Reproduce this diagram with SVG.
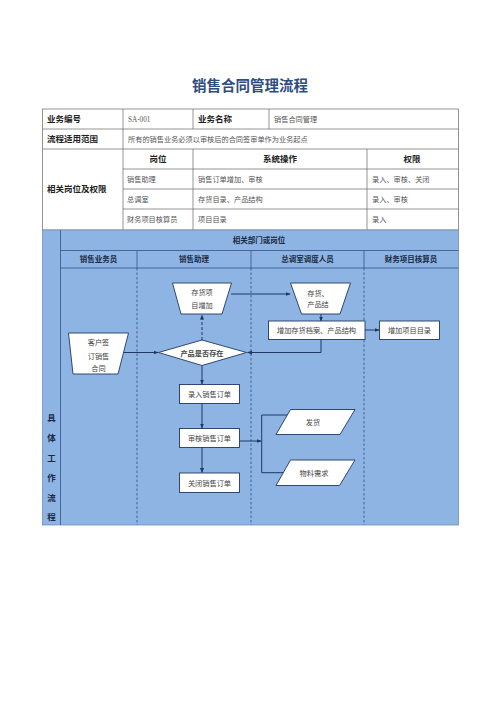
<svg xmlns="http://www.w3.org/2000/svg" width="500" height="708" viewBox="0 0 500 708">
<style>
.tb{fill:none;stroke:#7a7a7a;stroke-width:0.8}
.hd{font-family:"Noto Sans CJK SC",sans-serif;font-weight:bold;font-size:8.5px;fill:#222}
.bd{font-family:"Liberation Serif","Noto Sans CJK SC",serif;font-size:7.2px;fill:#555}
.lane{stroke:#3d5f95;stroke-width:0.9;fill:none}
.dash{stroke:#2f4f86;stroke-width:0.8;stroke-dasharray:2.5,2;fill:none}
.shape{fill:#fff;stroke:#1f3864;stroke-width:0.9}
.st{font-family:"Noto Sans CJK SC",sans-serif;font-size:7.2px;fill:#444;text-anchor:middle}
.cn{stroke:#1f3864;stroke-width:1;fill:none}
.lh{font-family:"Noto Sans CJK SC",sans-serif;font-weight:bold;font-size:7.5px;fill:#1a2a44;text-anchor:middle}
</style>
<defs>
<marker id="ah" viewBox="0 0 10 10" refX="9" refY="5" markerWidth="5" markerHeight="5" orient="auto">
<path d="M0,1 L10,5 L0,9 z" fill="#1f3864"/>
</marker>
</defs>
<rect width="500" height="708" fill="#fff"/>
<text x="250" y="91" text-anchor="middle" font-family="Noto Sans CJK SC,sans-serif" font-weight="bold" font-size="14.5" fill="#2f4d7e">销售合同管理流程</text>

<g id="table">
<rect class="tb" x="42.5" y="109" width="416" height="121"/>
<line class="tb" x1="42.5" y1="129" x2="458.5" y2="129"/>
<line class="tb" x1="42.5" y1="149" x2="458.5" y2="149"/>
<line class="tb" x1="123" y1="169" x2="458.5" y2="169"/>
<line class="tb" x1="123" y1="189" x2="458.5" y2="189"/>
<line class="tb" x1="123" y1="209" x2="458.5" y2="209"/>
<line class="tb" x1="123" y1="109" x2="123" y2="230"/>
<line class="tb" x1="193" y1="109" x2="193" y2="129"/>
<line class="tb" x1="269" y1="109" x2="269" y2="129"/>
<line class="tb" x1="193" y1="149" x2="193" y2="230"/>
<line class="tb" x1="367" y1="149" x2="367" y2="230"/>
<text class="hd" x="47" y="122">业务编号</text>
<text class="bd" x="128" y="122">SA-001</text>
<text class="hd" x="198" y="122">业务名称</text>
<text class="bd" x="274" y="122">销售合同管理</text>
<text class="hd" x="47" y="142">流程适用范围</text>
<text class="bd" x="128" y="142">所有的销售业务必须以审核后的合同签审单作为业务起点</text>
<text class="hd" x="47" y="192">相关岗位及权限</text>
<text class="hd" x="158" y="162" text-anchor="middle">岗位</text>
<text class="hd" x="280" y="162" text-anchor="middle">系统操作</text>
<text class="hd" x="412" y="162" text-anchor="middle">权限</text>
<text class="bd" x="127" y="182">销售助理</text>
<text class="bd" x="198" y="182">销售订单增加、审核</text>
<text class="bd" x="372" y="182">录入、审核、关闭</text>
<text class="bd" x="127" y="202">总调室</text>
<text class="bd" x="198" y="202">存货目录、产品结构</text>
<text class="bd" x="372" y="202">录入、审核</text>
<text class="bd" x="127" y="222">财务项目核算员</text>
<text class="bd" x="198" y="222">项目目录</text>
<text class="bd" x="372" y="222">录入</text>
</g>

<g id="swimlanes">
<rect x="42.5" y="230" width="416" height="295" fill="#8db4e2" stroke="#6f8fbf" stroke-width="0.8"/>
<line class="lane" x1="60.5" y1="230" x2="60.5" y2="525"/>
<line class="lane" x1="60.5" y1="250.5" x2="458.5" y2="250.5"/>
<line class="lane" x1="60.5" y1="268" x2="458.5" y2="268"/>
<line class="lane" x1="137" y1="250.5" x2="137" y2="268"/>
<line class="lane" x1="251" y1="250.5" x2="251" y2="268"/>
<line class="lane" x1="364" y1="250.5" x2="364" y2="268"/>
<line class="dash" x1="137" y1="268" x2="137" y2="525"/>
<line class="dash" x1="251" y1="268" x2="251" y2="525"/>
<line class="dash" x1="364" y1="268" x2="364" y2="525"/>
<text class="lh" x="259" y="243" font-size="8.5">相关部门或岗位</text>
<text class="lh" x="98.5" y="262">销售业务员</text>
<text class="lh" x="194" y="262">销售助理</text>
<text class="lh" x="307.5" y="262">总调室调度人员</text>
<text class="lh" x="411" y="262">财务项目核算员</text>
<g font-family="Noto Sans CJK SC,sans-serif" font-weight="bold" font-size="8.5" fill="#1a2a44" text-anchor="middle">
<text x="51.5" y="421">具</text>
<text x="51.5" y="441">体</text>
<text x="51.5" y="461">工</text>
<text x="51.5" y="481">作</text>
<text x="51.5" y="501">流</text>
<text x="51.5" y="520">程</text>
</g>
</g>

<g id="connectors">
<line class="cn" x1="202" y1="340" x2="202" y2="315" stroke-dasharray="3,2" marker-end="url(#ah)"/>
<line class="cn" x1="231" y1="294" x2="290" y2="294" marker-end="url(#ah)"/>
<line class="cn" x1="321" y1="314" x2="321" y2="321" marker-end="url(#ah)"/>
<line class="cn" x1="365" y1="330" x2="379" y2="330" marker-end="url(#ah)"/>
<polyline class="cn" points="321,339.5 321,352.5 247.5,352.5" marker-end="url(#ah)"/>
<line class="cn" x1="124" y1="352.5" x2="158" y2="352.5" marker-end="url(#ah)"/>
<line class="cn" x1="202" y1="366" x2="202" y2="384" marker-end="url(#ah)"/>
<line class="cn" x1="202" y1="403.5" x2="202" y2="428" marker-end="url(#ah)"/>
<line class="cn" x1="202" y1="447.5" x2="202" y2="472.5" marker-end="url(#ah)"/>
<line class="cn" x1="239" y1="441" x2="261" y2="441" marker-end="url(#ah)"/>
<polyline class="cn" points="287.5,415 261.7,415 261.7,472.7 283.5,472.7"/>
</g>

<g id="n_customer">
<polygon class="shape" points="68.5,333 128.5,333 118,374 73,374"/>
<text class="st" x="98.5" y="345">客户签</text>
<text class="st" x="98.5" y="359">订销售</text>
<text class="st" x="98.5" y="371">合同</text>
</g>
<g id="n_inventory_add">
<polygon class="shape" points="172.5,283 231.5,283 222,314 181,314"/>
<text class="st" x="202" y="295">存货项</text>
<text class="st" x="202" y="308">目增加</text>
</g>
<g id="n_decision">
<polygon class="shape" points="158.5,352.5 202,340 246.5,352.5 202,365.5"/>
<text class="st" x="202" y="355.5" font-weight="bold" fill="#222" font-size="6.8">产品是否存在</text>
</g>
<g id="n_inventory_struct">
<polygon class="shape" points="290.5,283 350.5,283 340,314 301.5,314"/>
<text class="st" x="318" y="296">存货、</text>
<text class="st" x="318" y="307">产品结</text>
</g>
<g id="n_add_archive">
<rect class="shape" x="268.5" y="321" width="96.5" height="18.5"/>
<text class="st" x="316.5" y="333">增加存货档案、产品结构</text>
</g>
<g id="n_add_project">
<rect class="shape" x="379.5" y="321" width="60" height="18.5"/>
<text class="st" x="409.5" y="333">增加项目目录</text>
</g>
<g id="n_enter_order">
<rect class="shape" x="179.5" y="384.5" width="60" height="19"/>
<text class="st" x="209.5" y="396.5">录入销售订单</text>
</g>
<g id="n_review_order">
<rect class="shape" x="179.5" y="428.5" width="60" height="19"/>
<text class="st" x="209.5" y="440.5">审核销售订单</text>
</g>
<g id="n_close_order">
<rect class="shape" x="179.5" y="473" width="60" height="19.5"/>
<text class="st" x="209.5" y="485.5">关闭销售订单</text>
</g>
<g id="n_ship">
<polygon class="shape" points="290.5,409.5 355,409.5 340,434.5 276,434.5"/>
<text class="st" x="313" y="425">发货</text>
</g>
<g id="n_material">
<polygon class="shape" points="290.5,460 355,460 339.5,485.5 276,485.5"/>
<text class="st" x="314" y="475.5">物料需求</text>
</g>
</svg>
